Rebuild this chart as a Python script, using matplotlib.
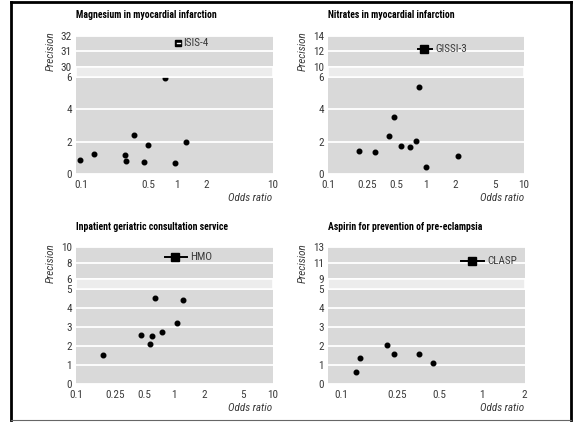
"""Funnel plots with broken precision axis, four meta-analyses."""

import matplotlib.pyplot as plt
from matplotlib.lines import Line2D
from matplotlib.patches import Rectangle

W, H = 578, 422
GRAY = "#d9d9d9"
TXT = "#3a3a3a"

plt.rcParams["font.family"] = ["Roboto Condensed", "DejaVu Sans"]

# --- data ---
mag_or = [0.095, 0.134, 0.284, 0.288, 0.355, 0.448, 0.50, 0.745, 0.953, 1.24]
mag_prec = [0.86, 1.25, 1.21, 0.80, 2.40, 0.74, 1.82, 5.94, 0.70, 2.00]
isis_or, isis_prec, isis_ci = 1.03, 31.5, (0.99, 1.07)

nit_or = [0.209, 0.30, 0.419, 0.468, 0.556, 0.687, 0.796, 0.849, 0.99, 2.11]
nit_prec = [1.45, 1.39, 2.37, 3.50, 1.74, 1.66, 2.05, 5.37, 0.43, 1.11]
gissi_or, gissi_prec, gissi_ci = 0.95, 12.25, (0.83, 1.14)

ger_or = [0.188, 0.459, 0.571, 0.60, 0.643, 0.753, 1.07, 1.23]
ger_prec = [1.52, 2.56, 2.13, 2.55, 4.53, 2.75, 3.19, 4.40]
hmo_or, hmo_prec, hmo_ci = 1.02, 8.8, (0.81, 1.34)

asp_or = [0.128, 0.136, 0.211, 0.239, 0.356, 0.448]
asp_prec = [0.64, 1.38, 2.04, 1.59, 1.60, 1.13]
clasp_or, clasp_prec, clasp_ci = 0.85, 11.3, (0.71, 1.03)

xticks_wide = [0.1, 0.25, 0.5, 1, 2, 5, 10]
xlabels_wide = ["0.1", "0.25", "0.5", "1", "2", "5", "10"]


def fbox(left, right, top, bottom):
    """Pixel box (from top-left) to figure fraction rect."""
    return [left / W, 1 - bottom / H, (right - left) / W, (bottom - top) / H]


def style(ax, xlim, ylim, yticks):
    ax.set_facecolor(GRAY)
    ax.set_xscale("log")
    ax.set_xlim(*xlim)
    ax.set_ylim(*ylim)
    ax.set_yticks(yticks, [str(t) for t in yticks])
    ax.minorticks_off()
    for s in ax.spines.values():
        s.set_visible(False)
    ax.grid(axis="y", color="white", lw=1.3)
    ax.grid(axis="x", visible=False)
    ax.set_axisbelow(True)
    ax.tick_params(length=0, labelsize=8, labelcolor=TXT, pad=3)


def panel(fig, x0, x1, up, low, title, xlim, xticks, xlabels,
          up_ticks, low_ticks, ors, precs, trial, t_or, t_prec, t_ci,
          ci_white=False, sq=5.5):
    ax_up = fig.add_axes(fbox(x0, x1, up[0], up[1]))
    ax_lo = fig.add_axes(fbox(x0, x1, low[0], low[1]))
    style(ax_up, xlim, (up_ticks[0], up_ticks[-1]), up_ticks)
    style(ax_lo, xlim, (low_ticks[0], low_ticks[-1]), low_ticks)
    ax_up.set_xticks([])
    ax_lo.set_xticks(xticks, xlabels)
    ax_lo.minorticks_off()
    ax_lo.tick_params(axis="x", pad=4)

    ax_lo.plot(ors, precs, "o", color="black", ms=3.3, clip_on=False)

    if ci_white:
        ax_up.plot(t_or, t_prec, "s", color="black", ms=sq, zorder=3)
        ax_up.plot(t_ci, [t_prec, t_prec], color="white", lw=1.0, zorder=4)
    else:
        ax_up.plot(t_ci, [t_prec, t_prec], color="black", lw=1.4, zorder=3)
        ax_up.plot(t_or, t_prec, "s", color="black", ms=sq, zorder=4)
    ax_up.annotate(trial, xy=(t_ci[1], t_prec), xytext=(2.5, 0),
                   textcoords="offset points", va="center", ha="left",
                   fontsize=8, color=TXT)

    # break band between the two parts
    fig.add_artist(Rectangle((x0 / W, 1 - low[0] / H), (x1 - x0) / W,
                             (low[0] - up[1]) / H, transform=fig.transFigure,
                             facecolor="#ececec", edgecolor="white", lw=1.2))

    fig.text(x0 / W, 1 - (up[0] - 20) / H, title, fontsize=7,
             fontweight="bold", ha="left", va="center", color="black")
    fig.text((x0 - 25.5) / W, 1 - (up[0] + up[1]) / 2 / H, "Precision",
             rotation=90, style="italic", fontsize=8, color=TXT,
             ha="center", va="center")
    fig.text(x1 / W, 1 - (low[1] + 23.5) / H, "Odds ratio", style="italic",
             fontsize=8, color=TXT, ha="right", va="center")


fig = plt.figure(figsize=(W / 100, H / 100), dpi=100)

row1_up, row1_lo = (35.5, 67.0), (76.6, 174.3)
row2_up, row2_lo = (247.3, 279.0), (288.7, 384.3)

panel(fig, 76, 272.5, row1_up, row1_lo, "Magnesium in myocardial infarction",
      (0.087, 10), [0.1, 0.5, 1, 2, 10], ["0.1", "0.5", "1", "2", "10"],
      [30, 31, 32], [0, 2, 4, 6], mag_or, mag_prec,
      "ISIS-4", isis_or, isis_prec, isis_ci, ci_white=True, sq=4.8)

panel(fig, 328, 524, row1_up, row1_lo, "Nitrates in myocardial infarction",
      (0.1, 10), xticks_wide, xlabels_wide,
      [10, 12, 14], [0, 2, 4, 6], nit_or, nit_prec,
      "GISSI-3", gissi_or, gissi_prec, gissi_ci, sq=6.0)

panel(fig, 76, 272.5, row2_up, row2_lo, "Inpatient geriatric consultation service",
      (0.1, 10), xticks_wide, xlabels_wide,
      [6, 8, 10], [0, 1, 2, 3, 4, 5], ger_or, ger_prec,
      "HMO", hmo_or, hmo_prec, hmo_ci, sq=5.4)

panel(fig, 328, 524.5, row2_up, row2_lo, "Aspirin for prevention of pre-eclampsia",
      (0.0807, 2), [0.1, 0.25, 0.5, 1, 2], ["0.1", "0.25", "0.5", "1", "2"],
      [9, 11, 13], [0, 1, 2, 3, 4, 5], asp_or, asp_prec,
      "CLASP", clasp_or, clasp_prec, clasp_ci, sq=5.4)

# cropped bottom edge and the outer frame
fig.add_artist(Rectangle((12 / W, 1 - 419.5 / H), 558 / W, 8 / H,
                         transform=fig.transFigure, facecolor="white",
                         edgecolor="none", zorder=10))
frame = dict(transform=fig.transFigure, color="black", lw=2.0, zorder=11)
fig.add_artist(Line2D([11 / W, 11 / W], [1 - 2 / H, 1 - 420 / H], **frame))
fig.add_artist(Line2D([571 / W, 571 / W], [1 - 2 / H, 1 - 420 / H], **frame))
fig.add_artist(Line2D([11 / W, 571 / W], [1 - 2 / H, 1 - 2 / H], **frame))
fig.add_artist(Line2D([11 / W, 571 / W], [1 - 420 / H, 1 - 420 / H],
                      transform=fig.transFigure, color="#666666", lw=0.8,
                      zorder=11))

fig.savefig("out.png", dpi=100)
